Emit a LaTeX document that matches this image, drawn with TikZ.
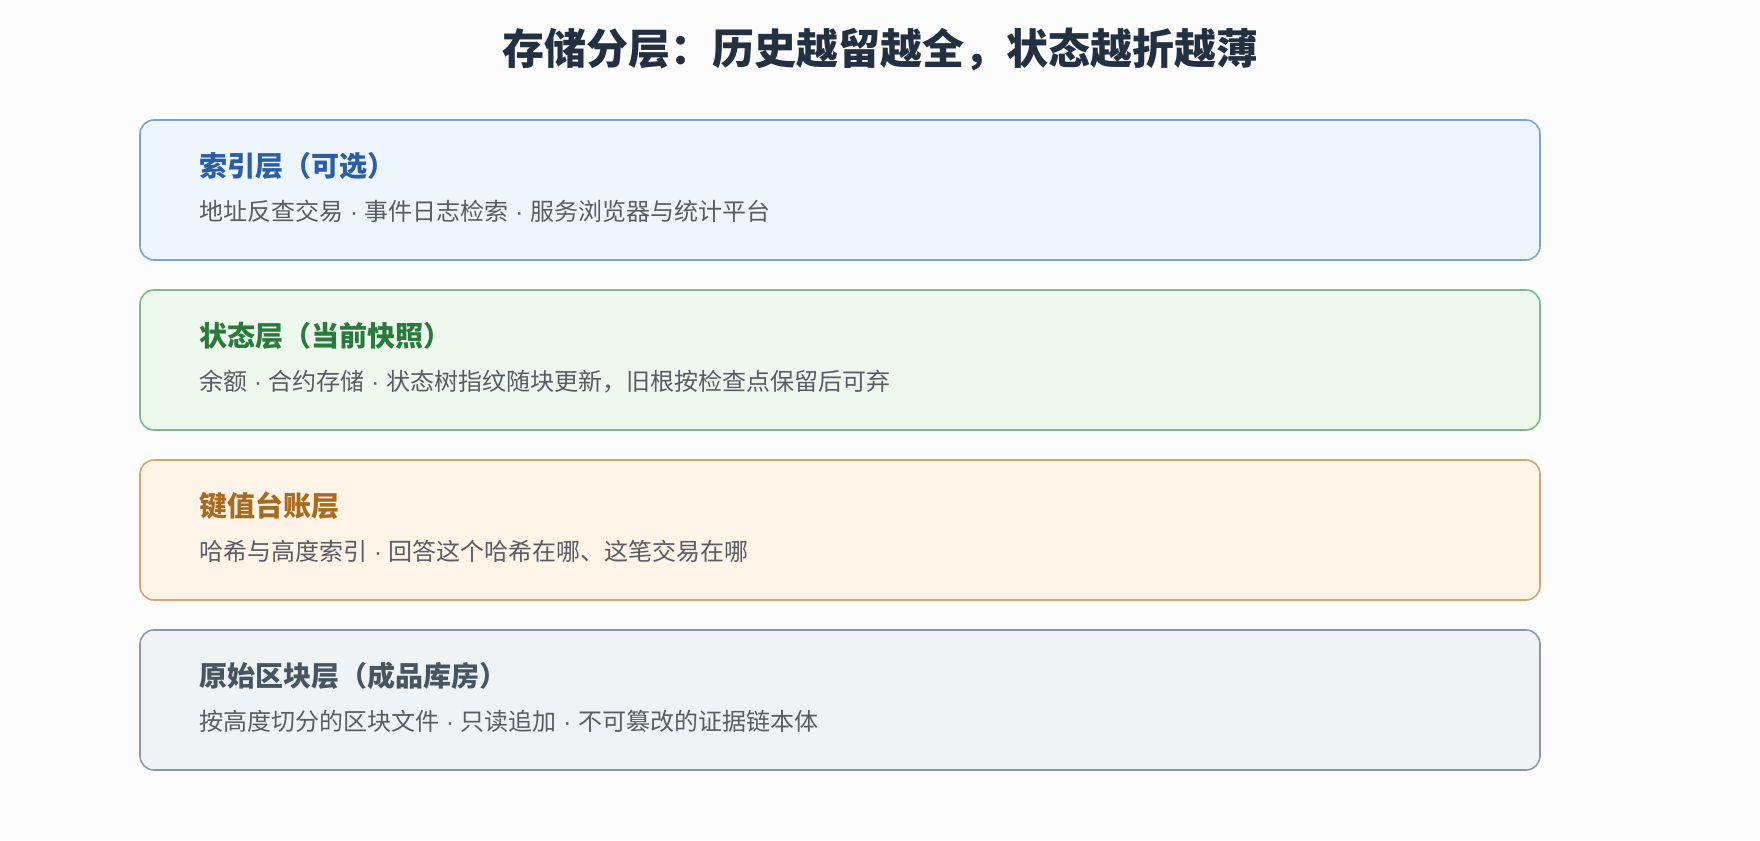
\documentclass[tikz,border=0pt]{standalone}
\usepackage{fontspec}
\setmainfont{Noto Sans CJK SC}
\newfontfamily\latdot{Liberation Sans}
\usetikzlibrary{calc}
\definecolor{bgc}{HTML}{FCFCFC}
\definecolor{titlec}{HTML}{233041}
\definecolor{subc}{HTML}{595C63}
\definecolor{bluebd}{HTML}{7BA3D6}
\definecolor{bluefill}{HTML}{EEF5FD}
\definecolor{bluetx}{HTML}{2B5EA3}
\definecolor{greenbd}{HTML}{7DBA8A}
\definecolor{greenfill}{HTML}{EEF8EF}
\definecolor{greentx}{HTML}{2A7A3B}
\definecolor{orangebd}{HTML}{D8A46E}
\definecolor{orangefill}{HTML}{FEF4E8}
\definecolor{orangetx}{HTML}{A86A1C}
\definecolor{graybd}{HTML}{8A99A8}
\definecolor{grayfill}{HTML}{F0F3F6}
\definecolor{graytx}{HTML}{46555F}
\tikzset{
  layerbox/.style={draw, line width=1.6pt, rounded corners=14pt, minimum width=1400pt, minimum height=140pt, inner sep=0pt},
  headtext/.style={anchor=west, inner sep=0pt, font=\fontsize{28}{33}\selectfont\bfseries},
  subtext/.style={anchor=west, inner sep=0pt, text=subc, font=\fontsize{24}{29}\selectfont},
  titletext/.style={inner sep=0pt, text=titlec, font=\fontsize{42}{50}\selectfont\bfseries}
}
\newcommand{\sepdot}{{\latdot\ ·\ }}
\begin{document}
\begin{tikzpicture}[x=1pt,y=-1pt]
\fill[bgc] (0,0) rectangle (1760,840);
\useasboundingbox (0,0) rectangle (1760,840);
\node[titletext] (title) at (880,50) {存储分层：历史越留越全，状态越折越薄};

\node[layerbox, draw=bluebd, fill=bluefill] (b1) at (840,190) {};
\node[headtext, text=bluetx] (h1) at ($(b1.north west)+(60,47)$) {索引层（可选）};
\node[subtext] (s1) at ($(b1.north west)+(60,92)$) {地址反查交易\sepdot 事件日志检索\sepdot 服务浏览器与统计平台};

\node[layerbox, draw=greenbd, fill=greenfill] (b2) at (840,360) {};
\node[headtext, text=greentx] (h2) at ($(b2.north west)+(60,47)$) {状态层（当前快照）};
\node[subtext] (s2) at ($(b2.north west)+(60,92)$) {余额\sepdot 合约存储\sepdot 状态树指纹随块更新，旧根按检查点保留后可弃};

\node[layerbox, draw=orangebd, fill=orangefill] (b3) at (840,530) {};
\node[headtext, text=orangetx] (h3) at ($(b3.north west)+(60,47)$) {键值台账层};
\node[subtext] (s3) at ($(b3.north west)+(60,92)$) {哈希与高度索引\sepdot 回答这个哈希在哪、这笔交易在哪};

\node[layerbox, draw=graybd, fill=grayfill] (b4) at (840,700) {};
\node[headtext, text=graytx] (h4) at ($(b4.north west)+(60,47)$) {原始区块层（成品库房）};
\node[subtext] (s4) at ($(b4.north west)+(60,92)$) {按高度切分的区块文件\sepdot 只读追加\sepdot 不可篡改的证据链本体};
\end{tikzpicture}
\end{document}
